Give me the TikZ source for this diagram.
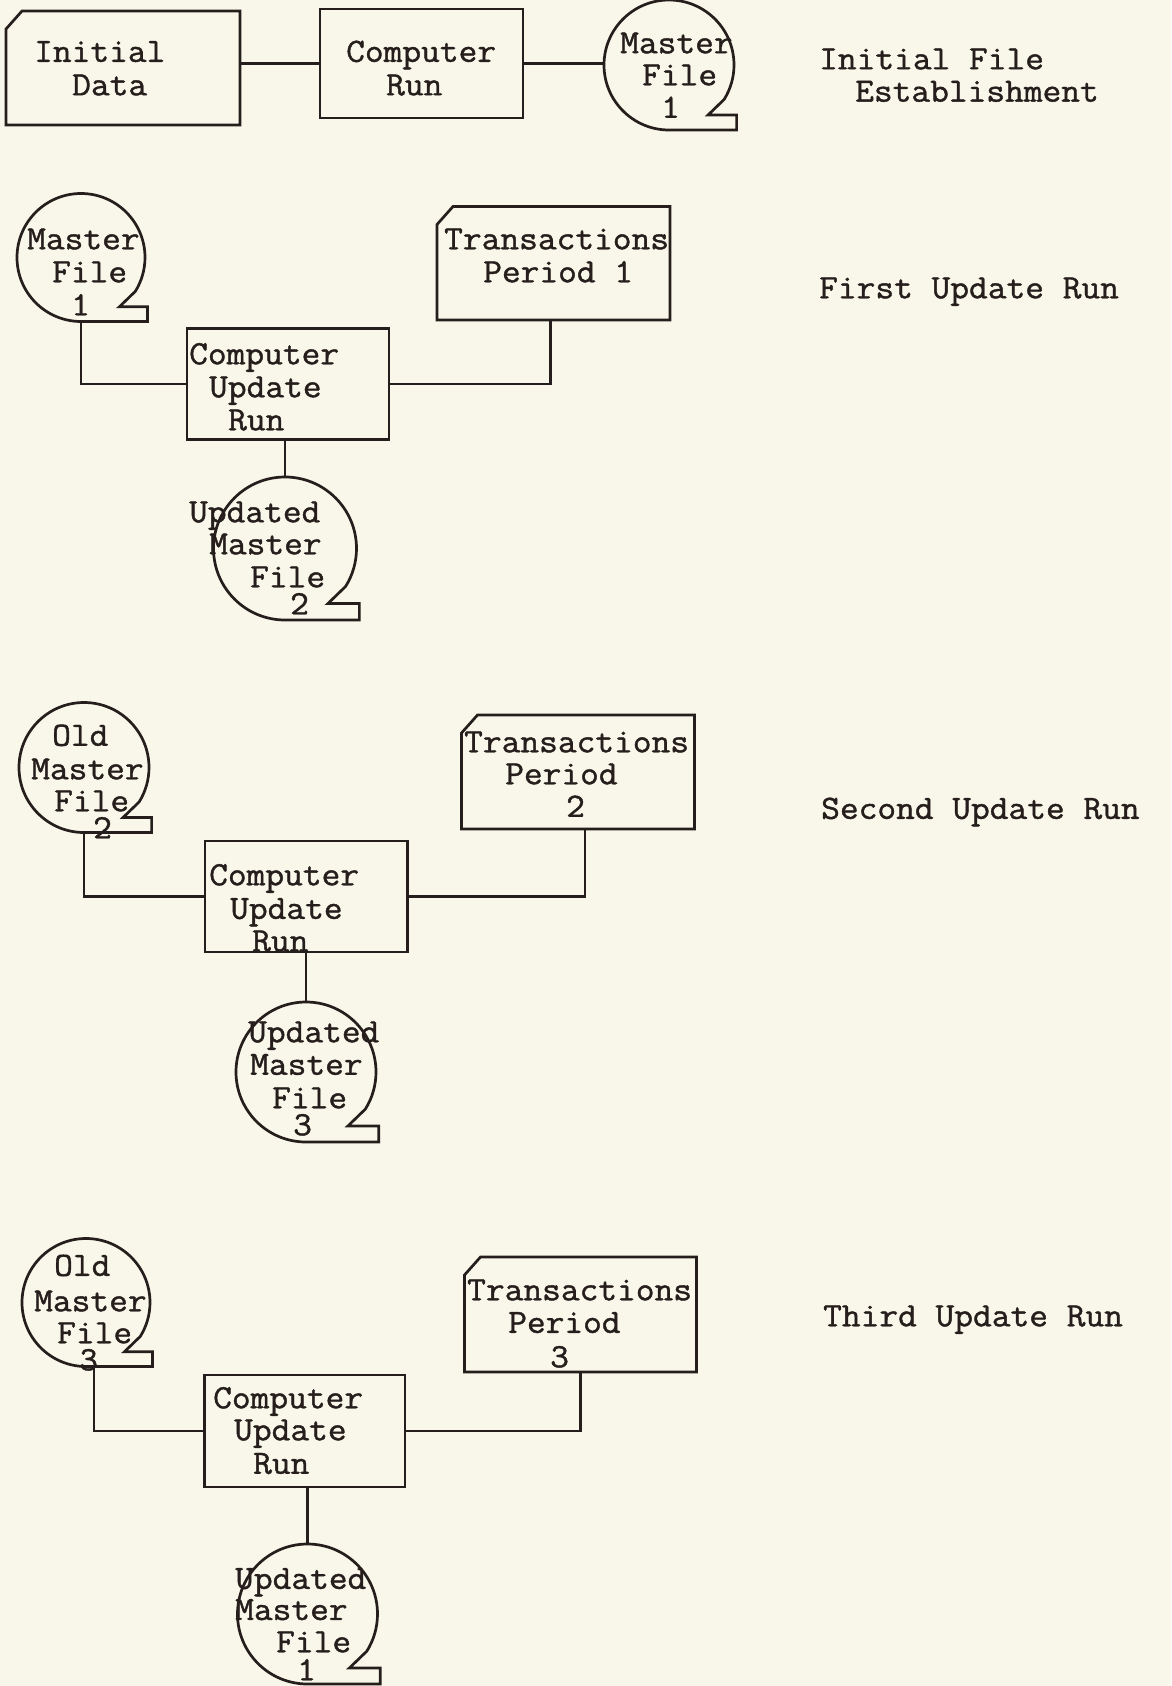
\documentclass[tikz,border=0pt]{standalone}
\usepackage{fontspec}
\newfontfamily\tw[FakeBold=1.2,FakeStretch=1.07]{Latin Modern Mono}
\usetikzlibrary{calc}
\definecolor{paper}{RGB}{248,247,233}
\definecolor{ink}{RGB}{38,30,28}
\newcommand\cardoutline[1]{\draw[ln] (#1.south west) -- (#1.south east) -- (#1.north east) -- ([xshift=16pt]#1.north west) -- ([yshift=-18pt]#1.north west) -- cycle;}
\newcommand\tapeoutline[2]{\draw[ln] ([shift={(0,-#2)}]#1.center) arc[start angle=-90, end angle=-392, radius=#2] -- ([shift={(0.6*#2,-0.77*#2)}]#1.center) -- ([shift={(1.04*#2,-0.77*#2)}]#1.center) -- ([shift={(1.04*#2,-#2)}]#1.center) -- cycle;}
\newcommand\tl[4]{\node[txt] (#1) at (#2,-#3) {#4};}
\begin{document}
\begin{tikzpicture}[x=1pt,y=1pt,
  ln/.style={draw=ink, line width=2.7pt, line join=miter},
  proc/.style={rectangle, draw=ink, line width=2.7pt, inner sep=0pt, outer sep=0pt},
  cardbox/.style={rectangle, draw=none, inner sep=0pt, outer sep=0pt},
  tapenode/.style={circle, draw=none, inner sep=0pt, outer sep=0pt},
  txt/.style={anchor=west, inner sep=0pt, font=\tw\fontsize{34pt}{33pt}\selectfont, text=ink, text height=20.5pt, text depth=0pt}]
\fill[paper] (0,0) rectangle (1171,-1686);
\useasboundingbox (0,0) rectangle (1171,-1686);

% ---------- Row 1: Initial File Establishment
\node[cardbox, minimum width=234pt, minimum height=114pt] (d) at (123,-68) {};
\cardoutline{d}
\node[proc, minimum width=203pt, minimum height=109pt] (c) at (421.5,-63.5) {};
\node[tapenode, minimum size=130pt] (m0) at (669,-65) {};
\tapeoutline{m0}{65}
\draw[ln] (c.west -| d.east) -- (c.west);
\draw[ln] (c.east) -- (c.east -| m0.west);
\tl{a1}{34}{51.6}{Initial}
\tl{a2}{72}{85}{Data}
\tl{a3}{346}{51.6}{Computer}
\tl{a4}{386}{85}{Run}
\tl{a5}{620}{43}{Master}
\tl{a6}{642}{75}{File}
\tl{a7}{661}{107.5}{1}
\tl{a8}{819}{59}{Initial File}
\tl{a9}{855}{91.4}{Establishment}

% ---------- Row 2: First Update Run
\node[tapenode, minimum size=128pt] (m1) at (81,-257.5) {};
\tapeoutline{m1}{64}
\node[cardbox, minimum width=233pt, minimum height=113.5pt] (t1) at (553.5,-263.25) {};
\cardoutline{t1}
\node[proc, minimum width=202pt, minimum height=111pt] (b1) at (288,-384) {};
\node[tapenode, minimum size=143pt] (u1) at (285,-548.5) {};
\tapeoutline{u1}{71.5}
\draw[ln] (m1.south) |- (b1.west);
\draw[ln] (b1.east) -| ([xshift=-3pt]t1.south);
\draw[ln] (u1.north |- b1.south) -- (u1.north);
\tl{b1a}{27}{239}{Master}
\tl{b1b}{52}{272}{File}
\tl{b1c}{71}{305}{1}
\tl{b1d}{444}{239}{Transactions}
\tl{b1e}{483}{272}{Period 1}
\tl{b1f}{189}{354}{Computer}
\tl{b1g}{209}{387}{Update}
\tl{b1h}{228}{420}{Run}
\tl{b1i}{189}{512}{Updated}
\tl{b1j}{209}{544}{Master}
\tl{b1k}{250}{577}{File}
\tl{b1l}{290}{604}{2}
\tl{b1m}{819}{288}{First Update Run}

% ---------- Row 3: Second Update Run
\node[tapenode, minimum size=130pt] (m2) at (84,-767.5) {};
\tapeoutline{m2}{65}
\node[cardbox, minimum width=233pt, minimum height=114pt] (t2) at (578,-772) {};
\cardoutline{t2}
\node[proc, minimum width=202.5pt, minimum height=111pt] (b2) at (306.25,-896.5) {};
\node[tapenode, minimum size=140pt] (u2) at (306,-1072) {};
\tapeoutline{u2}{70}
\draw[ln] (m2.south) |- (b2.west);
\draw[ln] (b2.east) -| ([xshift=7pt]t2.south);
\draw[ln] (u2.north |- b2.south) -- (u2.north);
\tl{c1a}{52}{735.5}{Old}
\tl{c1b}{31}{769}{Master}
\tl{c1c}{54}{801}{File}
\tl{c1d}{93}{828}{2}
\tl{c1e}{464}{742}{Transactions}
\tl{c1f}{505}{774}{Period}
\tl{c1g}{566}{806.5}{2}
\tl{c1h}{209}{875}{Computer}
\tl{c1i}{230}{908.6}{Update}
\tl{c1j}{252}{941}{Run}
\tl{c1k}{248}{1032}{Updated}
\tl{c1l}{250}{1064.5}{Master}
\tl{c1m}{272}{1098}{File}
\tl{c1n}{293}{1125}{3}
\tl{c1o}{821}{808.6}{Second Update Run}

% ---------- Row 4: Third Update Run
\node[tapenode, minimum size=128pt] (m3) at (86,-1302.5) {};
\tapeoutline{m3}{64}
\node[cardbox, minimum width=232pt, minimum height=115pt] (t3) at (580.5,-1314.5) {};
\cardoutline{t3}
\node[proc, minimum width=200.5pt, minimum height=112pt] (b3) at (304.75,-1431) {};
\node[tapenode, minimum size=140pt] (u3) at (307.5,-1614) {};
\tapeoutline{u3}{70}
\draw[ln] ([xshift=8pt]m3.south) |- (b3.west);
\draw[ln] (b3.east) -| (t3.south);
\draw[ln] (u3.north |- b3.south) -- (u3.north);
\tl{d1a}{54}{1265.6}{Old}
\tl{d1b}{34}{1301}{Master}
\tl{d1c}{57}{1333}{File}
\tl{d1d}{79}{1360}{3}
\tl{d1e}{467}{1290}{Transactions}
\tl{d1f}{508}{1322.6}{Period}
\tl{d1g}{550}{1357}{3}
\tl{d1h}{213}{1398}{Computer}
\tl{d1i}{234}{1430}{Update}
\tl{d1j}{253}{1463.5}{Run}
\tl{d1k}{235}{1578.6}{Updated}
\tl{d1l}{235}{1609.7}{Master}
\tl{d1m}{276}{1642}{File}
\tl{d1n}{297}{1670}{1}
\tl{d1o}{823}{1316}{Third Update Run}
\end{tikzpicture}
\end{document}
